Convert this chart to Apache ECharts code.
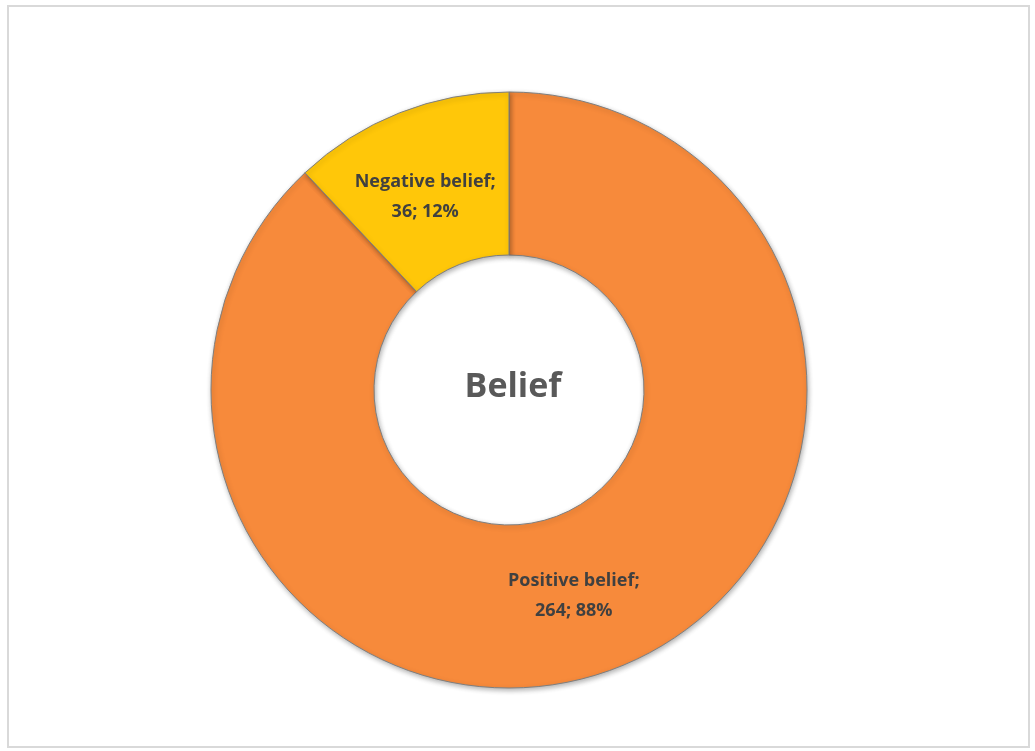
<!DOCTYPE html>
<html>
<head>
<meta charset="utf-8">
<script src="https://cdn.jsdelivr.net/npm/echarts@6/dist/echarts.min.js"></script>
<style>
html,body{margin:0;padding:0;background:#fff;}
#c{width:1035px;height:751px;}
</style>
</head>
<body>
<div id="c"></div>
<script>
const categories = ['Positive belief', 'Negative belief'];
const values = [264, 36];
const colors = ['#F78A3B', '#FFC709'];
const centerTitle = 'Belief';

const chart = echarts.init(document.getElementById('c'));
const data = categories.map((name, i) => ({
  name: name,
  value: values[i],
  itemStyle: { color: colors[i] },
  label: i === 0 ? { offset: [-16, 2] } : { offset: [-3, 11] }
}));

chart.setOption({
  animation: false,
  backgroundColor: '#ffffff',
  graphic: [
    {
      type: 'rect',
      shape: {x: 8, y: 6, width: 1021, height: 741},
      style: {fill: 'none', stroke: '#d9d9d9', lineWidth: 2},
      silent: true, z: -1
    },
    {
      type: 'text',
      x: 513, y: 387,
      style: {
        text: centerTitle,
        fill: '#595959',
        font: 'bold 34px "Open Sans", "Liberation Sans", sans-serif',
        textAlign: 'center', textVerticalAlign: 'middle'
      },
      z: 10
    }
  ],
  series: [{
    type: 'pie',
    center: [509, 390],
    radius: [135, 298],
    startAngle: 90,
    clockwise: true,
    itemStyle: {
      borderColor: '#7f7f7f',
      borderWidth: 1,
      shadowColor: 'rgba(0,0,0,0.3)',
      shadowBlur: 5,
      shadowOffsetX: 1,
      shadowOffsetY: 2
    },
    label: {
      show: true,
      position: 'inside',
      formatter: '{b};\n{c}; {d}%',
      color: '#404040',
      fontSize: 18,
      fontWeight: 'bold',
      fontFamily: '"Open Sans", "Liberation Sans", sans-serif',
      lineHeight: 30,
      align: 'center'
    },
    labelLine: {show: false},
    emphasis: {disabled: true},
    data: data
  }]
});
</script>
</body>
</html>
